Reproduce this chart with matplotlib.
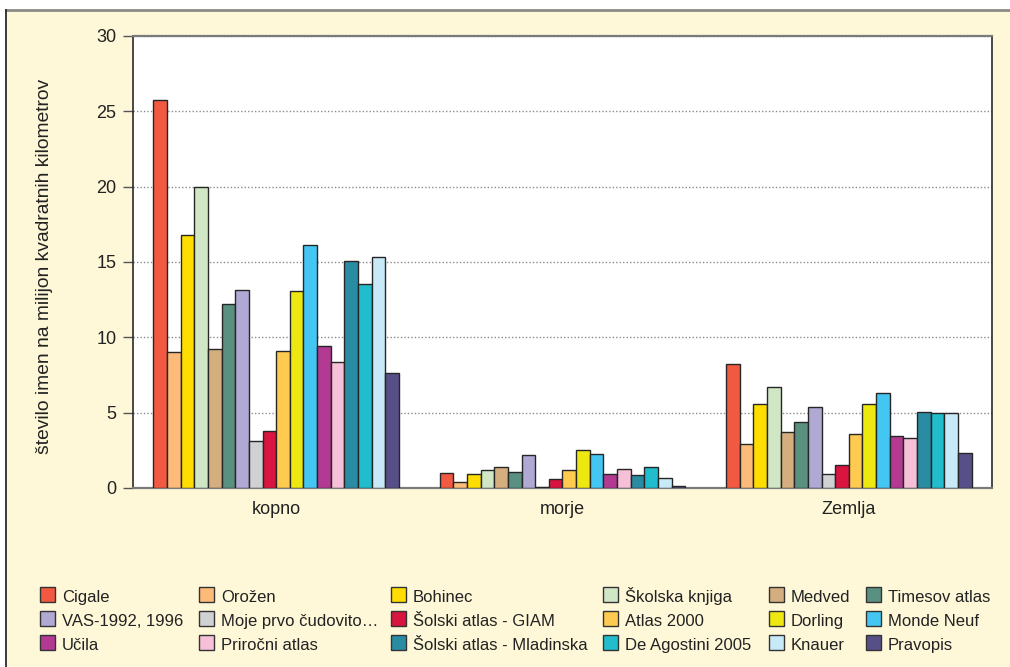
import matplotlib
matplotlib.use("Agg")
import matplotlib.pyplot as plt
import numpy as np
from matplotlib.patches import Rectangle

plt.rcParams['font.family'] = ['Liberation Sans', 'DejaVu Sans']

categories = ["kopno", "morje", "Zemlja"]

series_names = [
    "Cigale", "Orožen", "Bohinec", "Školska knjiga", "Medved", "Timesov atlas",
    "VAS-1992, 1996", "Moje prvo čudovito…", "Šolski atlas - GIAM", "Atlas 2000",
    "Dorling", "Monde Neuf", "Učila", "Priročni atlas",
    "Šolski atlas - Mladinska", "De Agostini 2005", "Knauer", "Pravopis",
]

kopno = [25.75, 9.0, 16.8, 20.0, 9.25, 12.2, 13.15, 3.1, 3.8, 9.1,
         13.05, 16.15, 9.45, 8.35, 15.05, 13.55, 15.35, 7.6]
morje = [1.0, 0.4, 0.93, 1.22, 1.42, 1.04, 2.19, 0.05, 0.58, 1.22,
         2.55, 2.24, 0.96, 1.29, 0.89, 1.42, 0.69, 0.16]
zemlja = [8.2, 2.9, 5.6, 6.73, 3.74, 4.36, 5.4, 0.93, 1.5, 3.56,
          5.6, 6.3, 3.43, 3.34, 5.04, 4.96, 5.0, 2.35]

colors = [
    "#F15A40", "#FDBB7A", "#FFDD00", "#D0E6C4", "#D4AE7E", "#5A9080",
    "#AFA9D3", "#D0D1D3", "#D9143F", "#FFCA50", "#EDE812", "#43C6F2",
    "#B23A93", "#F6C0D8", "#2A8CA3", "#21BDCC", "#C8E9F8", "#575088",
]

cream = "#FEF8D8"
W, H = 1010, 667
fig = plt.figure(figsize=(W / 100, H / 100), dpi=100)
fig.patch.set_facecolor("white")


def fx(px):
    return px / W


def fy(py):
    return (H - py) / H


# cream panel with a thin frame on the top and left
fig.patches.append(Rectangle((fx(6), 0), 1.0, fy(10), transform=fig.transFigure,
                             facecolor=cream, edgecolor="none", zorder=-10))
fig.add_artist(plt.Line2D([fx(6), 1.0], [fy(10)] * 2, transform=fig.transFigure,
                          color="#8a8a86", lw=2))
fig.add_artist(plt.Line2D([fx(6)] * 2, [0, fy(10)], transform=fig.transFigure,
                          color="#2a2a2a", lw=1.3))

ax = fig.add_axes([fx(133), fy(488), (992 - 133) / W, (488 - 36) / H])
ax.set_facecolor("white")

values = np.array([kopno, morje, zemlja])  # shape (3, 18)
n = len(series_names)
bw = 0.0477
x = np.arange(len(categories))
for i in range(n):
    offs = (i - (n - 1) / 2) * bw
    ax.bar(x + offs, values[:, i], width=bw, color=colors[i],
           edgecolor="#262626", linewidth=1.0, zorder=3)

ax.set_xlim(-0.5, 2.5)
ax.set_ylim(0, 30)
ax.set_yticks(np.arange(0, 31, 5))
ax.set_xticks(x)
ax.set_xticklabels(categories, fontsize=13)
ax.tick_params(axis="x", length=0, pad=9, colors="#222222")
ax.tick_params(axis="y", length=7, width=1, direction="out", labelsize=13,
               colors="#555555", labelcolor="#222222", pad=5)
ax.yaxis.grid(True, linestyle=(0, (1, 1.5)), color="#8c8c8c", linewidth=1, zorder=0)
for s in ["left", "right"]:
    ax.spines[s].set_color("#2a2a2a")
    ax.spines[s].set_linewidth(1.2)
for s in ["top", "bottom"]:
    ax.spines[s].set_color("#7a7a78")
    ax.spines[s].set_linewidth(1.6)

ax.set_ylabel("število imen na milijon kvadratnih kilometrov", fontsize=13.9, color="#222222")
ax.yaxis.set_label_coords(-0.093, 0.491)

# legend: six columns, entries read row by row
col_x = [40, 199, 391, 603, 769, 866]
row_base = [602, 626, 650]
ncol = 6
box = 15
for k, (name, col) in enumerate(zip(series_names, colors)):
    r, j = divmod(k, ncol)
    x0, yb = col_x[j], row_base[r]
    fig.patches.append(Rectangle((fx(x0), fy(yb)), box / W, box / H,
                                 transform=fig.transFigure, facecolor=col,
                                 edgecolor="#333333", linewidth=1.0))
    fig.text(fx(x0 + 22), fy(yb), name, fontsize=12, color="#222222",
             ha="left", va="baseline")

fig.savefig("out.png", dpi=100, facecolor=fig.get_facecolor())
